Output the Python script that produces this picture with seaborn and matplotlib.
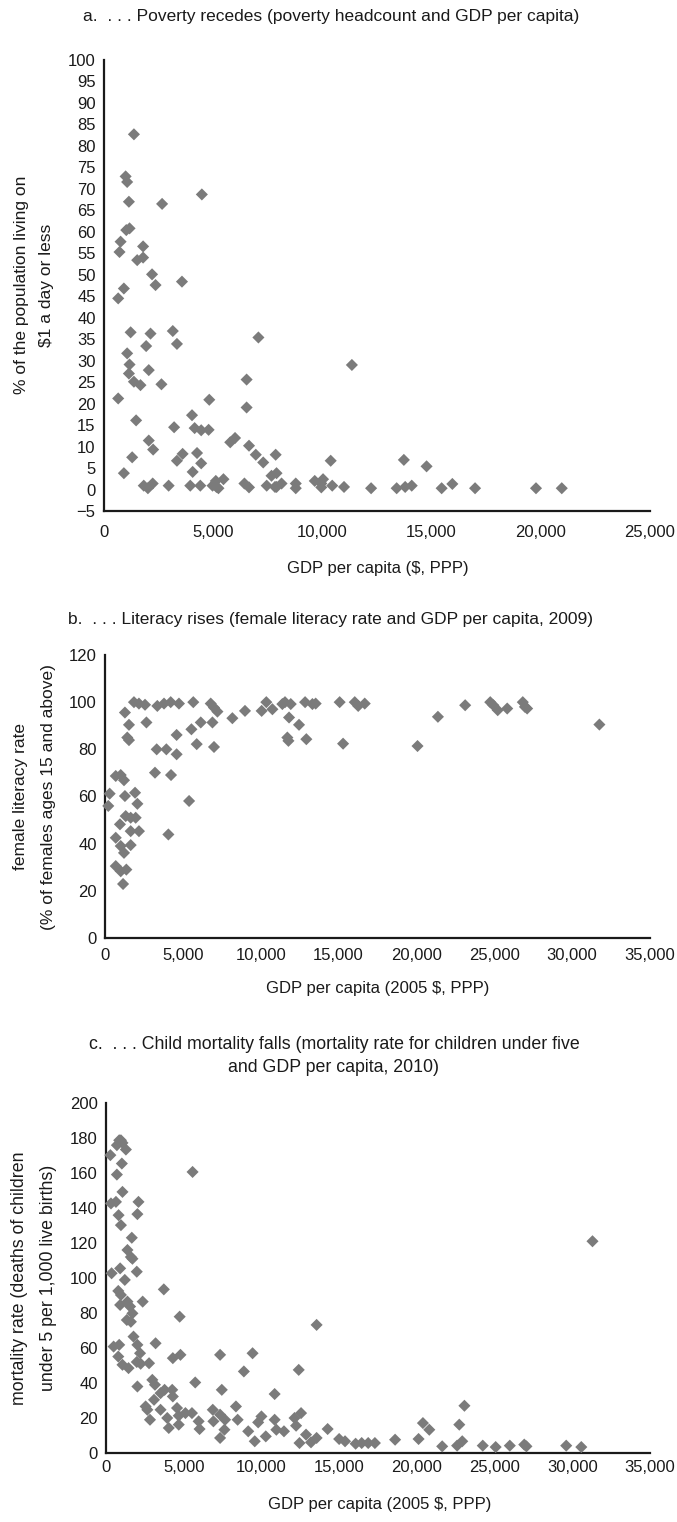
import matplotlib
matplotlib.use("Agg")
import matplotlib.pyplot as plt
from matplotlib.ticker import FuncFormatter, MultipleLocator
import seaborn as sns

# --- a. poverty headcount vs GDP per capita ---
gdp_a = [1370, 990, 1060, 4480, 1140, 2660, 1020, 1170, 760, 710, 1790, 1520, 1790,
         2200, 2360, 3570, 910, 650, 1220, 2130, 3150, 3340, 7070, 1930, 1060, 1170,
         11350, 1140, 1370, 1670, 2050, 2630, 6530, 650, 4820, 6530, 1470, 4030, 3210,
         4150, 4450, 4790, 2050, 2250, 5780, 6000, 6640, 6950, 7290, 7860, 1290, 3340,
         3600, 4260, 4450, 4060, 910, 10380, 7670, 7900,
         1820, 2010, 2230, 2960, 3950, 4410, 4970, 5120, 5240, 5470, 6430, 6640, 7450,
         7830, 8130, 8780, 8780, 9650, 9950, 10030, 9950, 10450, 10990, 12230, 7900,
         5150, 13400, 13730, 13790, 14090, 14770, 15460, 15950, 16990, 19780, 20960]
poverty = [82.7, 72.9, 71.6, 68.7, 67.0, 66.5, 60.4, 60.8, 57.7, 55.3, 56.6, 53.4, 54.0,
           50.1, 47.6, 48.4, 46.8, 44.5, 36.6, 36.3, 36.9, 33.9, 35.4, 33.4, 31.7, 29.1,
           29.0, 27.0, 25.1, 24.3, 27.8, 24.5, 25.6, 21.2, 20.9, 19.1, 16.1, 17.3, 14.5,
           14.3, 13.8, 13.9, 11.4, 9.3, 11.0, 12.0, 10.2, 8.1, 6.3, 8.1, 7.5, 6.7,
           8.3, 8.5, 6.1, 4.1, 3.8, 6.7, 3.2, 3.8,
           0.9, 0.3, 1.4, 0.9, 0.9, 0.9, 0.9, 2.0, 0.3, 2.4, 1.4, 0.5, 0.9,
           0.6, 1.4, 1.4, 0.3, 2.0, 1.4, 2.4, 0.5, 0.9, 0.6, 0.3, 0.6,
           0.6, 0.3, 6.9, 0.6, 0.9, 5.4, 0.3, 1.3, 0.3, 0.3, 0.3]

# --- b. female literacy rate vs GDP per capita, 2009 ---
gdp_b = [1860, 2180, 2570, 3360, 3790, 4220, 4750, 5670, 6790, 7000, 7220, 8180, 8990,
         10060, 10360, 10750, 11390, 11560, 11930, 11820, 12460, 11710, 11780, 12930,
         12850, 13320, 13530, 15070, 15290, 1280, 1540, 1430, 1540, 2660, 3320, 3940,
         4600, 4600, 5550, 6150, 6900, 5890, 7000, 3210, 4240, 5400, 4070,
         690, 1010, 1220, 300, 210, 1280, 1930, 2080, 1330, 1650, 1970, 960, 2180, 1650,
         690, 1010, 1220, 1650, 690, 1010, 1370, 1160,
         16040, 16260, 16680, 20070, 21380, 23130, 24740, 24940, 25220, 25830, 26830,
         26970, 27110, 31750]
literacy = [100.0, 99.4, 98.9, 98.4, 99.4, 100.0, 99.4, 100.0, 99.4, 97.7, 96.0, 93.2, 96.3,
            96.3, 100.0, 97.0, 99.2, 100.0, 99.2, 93.5, 90.4, 85.0, 83.6, 84.3,
            100.0, 99.2, 99.4, 100.0, 82.4, 95.6, 90.4, 85.0, 83.9, 91.4, 80.0, 80.0,
            77.9, 86.1, 88.5, 91.4, 91.4, 82.2, 81.0, 70.1, 69.1, 58.1, 43.9,
            68.7, 69.1, 66.9, 61.2, 56.0, 60.2, 61.6, 56.9, 51.7, 51.0, 51.0, 48.2, 45.3, 45.3,
            42.5, 39.0, 36.1, 39.4, 30.5, 28.3, 29.0, 22.9,
            100.0, 98.4, 99.4, 81.4, 93.8, 98.7, 100.0, 98.7, 96.6, 97.3, 100.0,
            98.0, 97.3, 90.5]

# --- c. under-five mortality vs GDP per capita, 2010 ---
gdp_c = [280, 700, 850, 960, 1060, 1280, 1020, 700, 1060, 320, 640, 2090, 810, 960, 2020,
         1660, 1380, 1600, 1700, 360, 910, 1210, 1980, 790, 960, 910, 1380, 1550, 1700,
         1340, 1600, 3720, 2360, 4740, 13550, 5570, 490, 850, 790, 1060, 1450, 1770, 2020,
         3190, 2190, 1980, 2230, 2770, 4300, 4790, 7340, 9430, 8870, 12400, 2020, 2980,
         3150, 5740, 3770, 4260, 3510, 3090, 4300, 2550, 2660, 2830, 3510, 3940, 4040,
         4570, 4680, 4680, 5110, 5530, 5960, 6020, 6870, 6910, 7340, 7450, 7660, 7620,
         7340, 8360, 8470, 9150, 9570, 9790, 10000, 10280, 10850, 10850, 10960, 11450,
         12130, 12230, 12550, 12450, 12870, 13190, 13550, 14260, 15000, 15380, 16060,
         16450, 16870, 17300, 18600, 20110, 20390, 20800, 21630, 22590, 22730, 22920,
         23060, 24240, 25070, 25980, 26910, 27050, 29610, 30580, 31300]
mortality = [170.2, 175.9, 178.7, 178.7, 177.2, 173.4, 165.4, 159.1, 149.2, 142.6, 143.5,
             143.5, 135.9, 130.2, 136.5, 123.0, 116.0, 112.0, 111.0, 102.7, 105.5, 98.9,
             103.6, 92.6, 90.3, 84.6, 86.5, 83.7, 79.8, 76.0, 75.0, 93.5, 86.5, 77.9, 73.2,
             160.6, 60.8, 61.8, 55.1, 50.4, 48.5, 66.5, 61.8, 62.7, 57.0, 52.0, 51.0, 51.3,
             54.2, 56.1, 56.1, 57.0, 46.6, 47.5, 38.0, 41.8, 39.0, 40.3, 36.1, 36.1, 34.2,
             30.4, 32.3, 26.6, 24.7, 19.0, 24.7, 20.0, 14.3, 25.7, 21.3, 16.2, 22.8, 22.8,
             18.1, 13.7, 24.7, 18.1, 8.6, 36.1, 19.0, 13.3, 21.9, 26.6, 19.0, 12.4, 6.7,
             17.5, 20.9, 9.5, 33.7, 19.0, 13.3, 12.4, 20.0, 15.6, 22.8, 5.7, 10.5, 6.1, 8.6,
             13.7, 8.0, 6.7, 5.3, 5.7, 5.7, 5.7, 7.6, 8.0, 17.1, 13.3, 3.8, 4.2, 16.2, 6.7,
             27.0, 4.2, 3.4, 4.2, 4.8, 3.8, 4.2, 3.4, 121.0]

W, H = 677, 1522
MARK = "#7b7b7b"
INK = "#1a1a1a"

sns.set_theme(style="white")
plt.rcParams["font.family"] = ["Liberation Sans", "DejaVu Sans"]
plt.rcParams["axes.unicode_minus"] = True

fig = plt.figure(figsize=(W / 100, H / 100), dpi=100)


def px_axes(left, right, top, bottom):
    return fig.add_axes([left / W, 1 - bottom / H, (right - left) / W, (bottom - top) / H])


def ftext(x, y, s, size=12.5, **kw):
    fig.text(x / W, 1 - y / H, s, ha="center", va="center", fontsize=size, color=INK, **kw)


def style(ax, xmax, ymin, ymax, ystep, xpad, ypad=6):
    ax.set_xlim(0, xmax)
    ax.set_ylim(ymin, ymax)
    ax.xaxis.set_major_locator(MultipleLocator(5000))
    ax.yaxis.set_major_locator(MultipleLocator(ystep))
    ax.xaxis.set_major_formatter(FuncFormatter(lambda v, p: f"{v:,.0f}"))
    for side in ("top", "right"):
        ax.spines[side].set_visible(False)
    for side in ("left", "bottom"):
        ax.spines[side].set_color(INK)
        ax.spines[side].set_linewidth(1.6)
    ax.tick_params(axis="both", direction="in", length=7, width=1.6, color=INK,
                   labelsize=12, labelcolor=INK)
    ax.tick_params(axis="x", pad=xpad)
    ax.tick_params(axis="y", pad=ypad)
    ax.set_xlabel("")
    ax.set_ylabel("")
    ax.grid(False)


def scatter(ax, x, y):
    sns.scatterplot(x=x, y=y, ax=ax, marker="D", s=38, color=MARK, edgecolor="none",
                    linewidth=0, clip_on=False, zorder=3)


# panel a
ax_a = px_axes(104, 650, 60, 511)
scatter(ax_a, gdp_a, poverty)
style(ax_a, 25000, -5, 100, 5, xpad=10)
ftext(331, 16, "a.  . . . Poverty recedes (poverty headcount and GDP per capita)")
ftext(22, 285, "% of the population living on", rotation=90)
ftext(47, 285, r"\$1 a day or less", rotation=90)
ftext(378, 568, r"GDP per capita (\$, PPP)", size=12)

# panel b
ax_b = px_axes(105, 650, 655, 938)
scatter(ax_b, gdp_b, literacy)
style(ax_b, 35000, 0, 120, 20, xpad=7)
ftext(331, 619, "b.  . . . Literacy rises (female literacy rate and GDP per capita, 2009)")
ftext(21, 797, "female literacy rate", rotation=90)
ftext(49, 797, "(% of females ages 15 and above)", rotation=90)
ftext(378, 988, r"GDP per capita (2005 \$, PPP)", size=12)

# panel c
ax_c = px_axes(106, 650, 1103, 1453)
scatter(ax_c, gdp_c, mortality)
style(ax_c, 35000, 0, 200, 20, xpad=5)
ftext(334, 1056, "c.  . . . Child mortality falls (mortality rate for children under five\n"
      "and GDP per capita, 2010)", size=12.8, linespacing=1.45)
ftext(20, 1278, "mortality rate (deaths of children", size=12.8, rotation=90)
ftext(49, 1278, "under 5 per 1,000 live births)", size=12.8, rotation=90)
ftext(380, 1505, r"GDP per capita (2005 \$, PPP)", size=12)

fig.savefig("out.png", dpi=100, facecolor="white")
